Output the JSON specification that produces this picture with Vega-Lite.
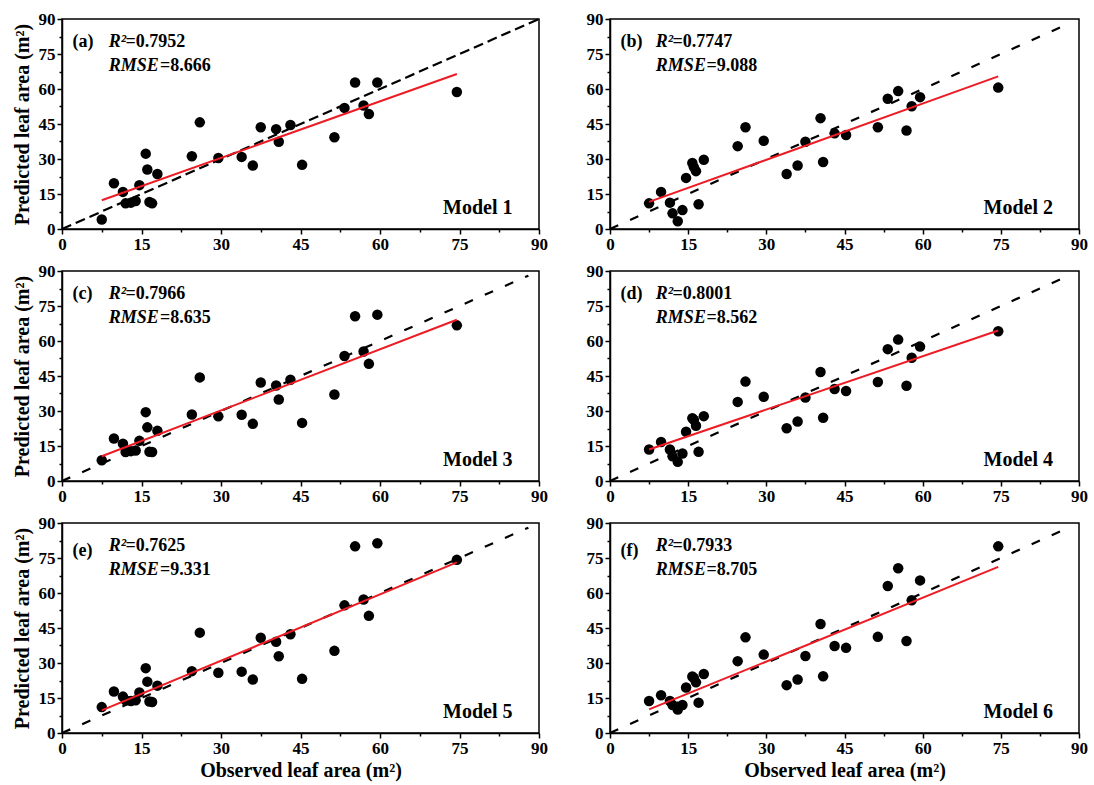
{
  "$schema": "https://vega.github.io/schema/vega-lite/v6.json",
  "background": "white",
  "padding": {"left": 11, "top": 9, "right": 5, "bottom": 5},
  "config": {
    "view": {"stroke": "black", "strokeWidth": 1.5},
    "axis": {
      "grid": false,
      "domainColor": "black", "domainWidth": 1.5,
      "tickColor": "black", "tickWidth": 1.5,
      "labelFont": "Liberation Serif", "labelFontWeight": "bold", "labelFontSize": 17, "labelColor": "black",
      "labelPadding": 2, "labelFlush": false, "labelOverlap": false,
      "titleFont": "Liberation Serif", "titleFontWeight": "bold", "titleFontSize": 20, "titleColor": "black"
    },
    "axisY": {"titlePadding": 6},
    "axisX": {"titlePadding": 4},
    "text": {"font": "Liberation Serif", "color": "black"}
  },
  "datasets": {
    "points": [
      {"panel":"a","observed":7.5,"predicted":4.1},{"panel":"a","observed":9.8,"predicted":19.6},{"panel":"a","observed":11.5,"predicted":15.9},{"panel":"a","observed":12.0,"predicted":11.0},{"panel":"a","observed":13.0,"predicted":11.3},{"panel":"a","observed":13.9,"predicted":12.0},{"panel":"a","observed":14.6,"predicted":18.8},{"panel":"a","observed":15.8,"predicted":32.3},{"panel":"a","observed":16.1,"predicted":25.5},{"panel":"a","observed":16.5,"predicted":11.6},{"panel":"a","observed":17.0,"predicted":11.0},{"panel":"a","observed":18.0,"predicted":23.6},{"panel":"a","observed":24.5,"predicted":31.2},{"panel":"a","observed":26.0,"predicted":45.7},{"panel":"a","observed":29.5,"predicted":30.4},{"panel":"a","observed":33.9,"predicted":30.9},{"panel":"a","observed":36.0,"predicted":27.2},{"panel":"a","observed":37.5,"predicted":43.6},{"panel":"a","observed":40.4,"predicted":42.8},{"panel":"a","observed":40.9,"predicted":37.4},{"panel":"a","observed":43.1,"predicted":44.6},{"panel":"a","observed":45.3,"predicted":27.5},{"panel":"a","observed":51.4,"predicted":39.3},{"panel":"a","observed":53.3,"predicted":51.9},{"panel":"a","observed":55.3,"predicted":62.8},{"panel":"a","observed":56.9,"predicted":52.9},{"panel":"a","observed":57.9,"predicted":49.3},{"panel":"a","observed":59.5,"predicted":62.8},{"panel":"a","observed":74.5,"predicted":58.7},
      {"panel":"b","observed":7.5,"predicted":11.0},{"panel":"b","observed":9.8,"predicted":15.9},{"panel":"b","observed":11.5,"predicted":11.3},{"panel":"b","observed":12.0,"predicted":6.7},{"panel":"b","observed":13.0,"predicted":3.3},{"panel":"b","observed":13.9,"predicted":8.1},{"panel":"b","observed":14.6,"predicted":21.9},{"panel":"b","observed":15.8,"predicted":28.3},{"panel":"b","observed":16.1,"predicted":26.5},{"panel":"b","observed":16.5,"predicted":24.8},{"panel":"b","observed":17.0,"predicted":10.6},{"panel":"b","observed":18.0,"predicted":29.7},{"panel":"b","observed":24.5,"predicted":35.5},{"panel":"b","observed":26.0,"predicted":43.6},{"panel":"b","observed":29.5,"predicted":37.8},{"panel":"b","observed":33.9,"predicted":23.6},{"panel":"b","observed":36.0,"predicted":27.2},{"panel":"b","observed":37.5,"predicted":37.4},{"panel":"b","observed":40.4,"predicted":47.5},{"panel":"b","observed":40.9,"predicted":28.7},{"panel":"b","observed":43.1,"predicted":41.0},{"panel":"b","observed":45.3,"predicted":40.3},{"panel":"b","observed":51.4,"predicted":43.6},{"panel":"b","observed":53.3,"predicted":55.8},{"panel":"b","observed":55.3,"predicted":59.1},{"panel":"b","observed":56.9,"predicted":42.2},{"panel":"b","observed":57.9,"predicted":52.6},{"panel":"b","observed":59.5,"predicted":56.5},{"panel":"b","observed":74.5,"predicted":60.6},
      {"panel":"c","observed":7.5,"predicted":8.9},{"panel":"c","observed":9.8,"predicted":18.2},{"panel":"c","observed":11.5,"predicted":16.0},{"panel":"c","observed":12.0,"predicted":12.4},{"panel":"c","observed":13.0,"predicted":12.8},{"panel":"c","observed":13.9,"predicted":13.1},{"panel":"c","observed":14.6,"predicted":17.2},{"panel":"c","observed":15.8,"predicted":29.5},{"panel":"c","observed":16.1,"predicted":23.0},{"panel":"c","observed":16.5,"predicted":12.5},{"panel":"c","observed":17.0,"predicted":12.4},{"panel":"c","observed":18.0,"predicted":21.5},{"panel":"c","observed":24.5,"predicted":28.5},{"panel":"c","observed":26.0,"predicted":44.4},{"panel":"c","observed":29.5,"predicted":27.7},{"panel":"c","observed":33.9,"predicted":28.4},{"panel":"c","observed":36.0,"predicted":24.5},{"panel":"c","observed":37.5,"predicted":42.2},{"panel":"c","observed":40.4,"predicted":40.9},{"panel":"c","observed":40.9,"predicted":34.9},{"panel":"c","observed":43.1,"predicted":43.4},{"panel":"c","observed":45.3,"predicted":24.9},{"panel":"c","observed":51.4,"predicted":37.1},{"panel":"c","observed":53.3,"predicted":53.6},{"panel":"c","observed":55.3,"predicted":70.6},{"panel":"c","observed":56.9,"predicted":55.5},{"panel":"c","observed":57.9,"predicted":50.2},{"panel":"c","observed":59.5,"predicted":71.3},{"panel":"c","observed":74.5,"predicted":66.7},
      {"panel":"d","observed":7.5,"predicted":13.5},{"panel":"d","observed":9.8,"predicted":16.7},{"panel":"d","observed":11.5,"predicted":13.5},{"panel":"d","observed":12.0,"predicted":10.6},{"panel":"d","observed":13.0,"predicted":8.2},{"panel":"d","observed":13.9,"predicted":11.8},{"panel":"d","observed":14.6,"predicted":21.1},{"panel":"d","observed":15.8,"predicted":26.9},{"panel":"d","observed":16.1,"predicted":26.2},{"panel":"d","observed":16.5,"predicted":23.7},{"panel":"d","observed":17.0,"predicted":12.5},{"panel":"d","observed":18.0,"predicted":27.8},{"panel":"d","observed":24.5,"predicted":33.9},{"panel":"d","observed":26.0,"predicted":42.6},{"panel":"d","observed":29.5,"predicted":36.1},{"panel":"d","observed":33.9,"predicted":22.6},{"panel":"d","observed":36.0,"predicted":25.5},{"panel":"d","observed":37.5,"predicted":35.8},{"panel":"d","observed":40.4,"predicted":46.7},{"panel":"d","observed":40.9,"predicted":27.1},{"panel":"d","observed":43.1,"predicted":39.4},{"panel":"d","observed":45.3,"predicted":38.6},{"panel":"d","observed":51.4,"predicted":42.4},{"panel":"d","observed":53.3,"predicted":56.5},{"panel":"d","observed":55.3,"predicted":60.6},{"panel":"d","observed":56.9,"predicted":40.8},{"panel":"d","observed":57.9,"predicted":52.8},{"panel":"d","observed":59.5,"predicted":57.6},{"panel":"d","observed":74.5,"predicted":64.2},
      {"panel":"e","observed":7.5,"predicted":11.1},{"panel":"e","observed":9.8,"predicted":17.8},{"panel":"e","observed":11.5,"predicted":15.6},{"panel":"e","observed":12.0,"predicted":14.0},{"panel":"e","observed":13.0,"predicted":13.7},{"panel":"e","observed":13.9,"predicted":14.0},{"panel":"e","observed":14.6,"predicted":17.4},{"panel":"e","observed":15.8,"predicted":27.8},{"panel":"e","observed":16.1,"predicted":22.0},{"panel":"e","observed":16.5,"predicted":13.5},{"panel":"e","observed":17.0,"predicted":13.3},{"panel":"e","observed":18.0,"predicted":20.3},{"panel":"e","observed":24.5,"predicted":26.5},{"panel":"e","observed":26.0,"predicted":43.0},{"panel":"e","observed":29.5,"predicted":25.8},{"panel":"e","observed":33.9,"predicted":26.3},{"panel":"e","observed":36.0,"predicted":22.9},{"panel":"e","observed":37.5,"predicted":40.8},{"panel":"e","observed":40.4,"predicted":39.1},{"panel":"e","observed":40.9,"predicted":32.9},{"panel":"e","observed":43.1,"predicted":42.3},{"panel":"e","observed":45.3,"predicted":23.2},{"panel":"e","observed":51.4,"predicted":35.2},{"panel":"e","observed":53.3,"predicted":54.7},{"panel":"e","observed":55.3,"predicted":80.0},{"panel":"e","observed":56.9,"predicted":57.2},{"panel":"e","observed":57.9,"predicted":50.2},{"panel":"e","observed":59.5,"predicted":81.3},{"panel":"e","observed":74.5,"predicted":74.2},
      {"panel":"f","observed":7.5,"predicted":13.7},{"panel":"f","observed":9.8,"predicted":16.2},{"panel":"f","observed":11.5,"predicted":13.7},{"panel":"f","observed":12.0,"predicted":12.0},{"panel":"f","observed":13.0,"predicted":10.1},{"panel":"f","observed":13.9,"predicted":12.0},{"panel":"f","observed":14.6,"predicted":19.5},{"panel":"f","observed":15.8,"predicted":24.2},{"panel":"f","observed":16.1,"predicted":23.6},{"panel":"f","observed":16.5,"predicted":21.7},{"panel":"f","observed":17.0,"predicted":13.0},{"panel":"f","observed":18.0,"predicted":25.3},{"panel":"f","observed":24.5,"predicted":30.8},{"panel":"f","observed":26.0,"predicted":41.0},{"panel":"f","observed":29.5,"predicted":33.6},{"panel":"f","observed":33.9,"predicted":20.5},{"panel":"f","observed":36.0,"predicted":22.9},{"panel":"f","observed":37.5,"predicted":33.0},{"panel":"f","observed":40.4,"predicted":46.7},{"panel":"f","observed":40.9,"predicted":24.3},{"panel":"f","observed":43.1,"predicted":37.3},{"panel":"f","observed":45.3,"predicted":36.5},{"panel":"f","observed":51.4,"predicted":41.2},{"panel":"f","observed":53.3,"predicted":63.0},{"panel":"f","observed":55.3,"predicted":70.6},{"panel":"f","observed":56.9,"predicted":39.4},{"panel":"f","observed":57.9,"predicted":56.9},{"panel":"f","observed":59.5,"predicted":65.4},{"panel":"f","observed":74.5,"predicted":80.0}
    ],
    "fit": [
      {"panel":"a","observed":7.5,"predicted":12.3},{"panel":"a","observed":74.5,"predicted":66.4},
      {"panel":"b","observed":7.5,"predicted":11.6},{"panel":"b","observed":74.5,"predicted":65.4},
      {"panel":"c","observed":7.5,"predicted":10.6},{"panel":"c","observed":74.5,"predicted":69.1},
      {"panel":"d","observed":7.5,"predicted":13.5},{"panel":"d","observed":74.5,"predicted":64.5},
      {"panel":"e","observed":7.5,"predicted":9.7},{"panel":"e","observed":74.5,"predicted":73.1},
      {"panel":"f","observed":7.5,"predicted":10.1},{"panel":"f","observed":74.5,"predicted":71.2}
    ],
    "identity": [
      {"panel":"a","observed":0,"predicted":0},{"panel":"a","observed":90,"predicted":90},
      {"panel":"b","observed":0,"predicted":0},{"panel":"b","observed":88,"predicted":88},
      {"panel":"c","observed":0,"predicted":0},{"panel":"c","observed":88,"predicted":88},
      {"panel":"d","observed":0,"predicted":0},{"panel":"d","observed":88,"predicted":88},
      {"panel":"e","observed":0,"predicted":0},{"panel":"e","observed":88,"predicted":88},
      {"panel":"f","observed":0,"predicted":0},{"panel":"f","observed":88,"predicted":88}
    ],
    "notes": [
      {"panel":"a","tag":"(a)","r2":"=0.7952","rmse":"=8.666","model":"Model 1"},
      {"panel":"b","tag":"(b)","r2":"=0.7747","rmse":"=9.088","model":"Model 2"},
      {"panel":"c","tag":"(c)","r2":"=0.7966","rmse":"=8.635","model":"Model 3"},
      {"panel":"d","tag":"(d)","r2":"=0.8001","rmse":"=8.562","model":"Model 4"},
      {"panel":"e","tag":"(e)","r2":"=0.7625","rmse":"=9.331","model":"Model 5"},
      {"panel":"f","tag":"(f)","r2":"=0.7933","rmse":"=8.705","model":"Model 6"}
    ]
  },
  "columns": 2,
  "spacing": {"row": 42, "column": 71},
  "bounds": "flush",
  "concat": [
    {
      "width": 477, "height": 210,
      "layer": [
        {"data": {"name": "identity"}, "transform": [{"filter": "datum.panel === 'a'"}], "mark": {"type": "line", "color": "black", "strokeWidth": 2.2, "strokeDash": [10, 5]},
          "encoding": {
            "x": {"field": "observed", "type": "quantitative", "scale": {"domain": [0, 90], "nice": false}, "axis": {"title": null, "tickCount": 30, "labelOverlap": false, "values": [0, 7.5, 15, 22.5, 30, 37.5, 45, 52.5, 60, 67.5, 75, 82.5, 90], "labelExpr": "datum.value % 15 === 0 ? datum.label : ''", "tickSize": {"condition": {"test": "datum.value % 15 === 0", "value": 5}, "value": 3}}},
            "y": {"field": "predicted", "type": "quantitative", "scale": {"domain": [0, 90], "nice": false}, "axis": {"title": "Predicted leaf area (m²)", "tickCount": 30, "labelOverlap": false, "values": [0, 7.5, 15, 22.5, 30, 37.5, 45, 52.5, 60, 67.5, 75, 82.5, 90], "labelExpr": "datum.value % 15 === 0 ? datum.label : ''", "tickSize": {"condition": {"test": "datum.value % 15 === 0", "value": 5}, "value": 3}}}
          }},
        {"data": {"name": "points"}, "transform": [{"filter": "datum.panel === 'a'"}], "mark": {"type": "circle", "size": 110, "color": "black", "opacity": 1}, "encoding": {"x": {"field": "observed", "type": "quantitative"}, "y": {"field": "predicted", "type": "quantitative"}}},
        {"data": {"name": "fit"}, "transform": [{"filter": "datum.panel === 'a'"}], "mark": {"type": "line", "color": "#ed1c24", "strokeWidth": 2}, "encoding": {"x": {"field": "observed", "type": "quantitative"}, "y": {"field": "predicted", "type": "quantitative"}}},
        {"data": {"name": "notes"}, "transform": [{"filter": "datum.panel === 'a'"}], "mark": {"type": "text", "align": "left", "baseline": "middle", "fontSize": 18, "fontWeight": "bold"}, "encoding": {"x": {"datum": 2}, "y": {"datum": 80}, "text": {"field": "tag"}}},
        {"data": {"name": "notes"}, "transform": [{"filter": "datum.panel === 'a'"}], "mark": {"type": "text", "align": "left", "baseline": "middle", "fontSize": 18, "fontWeight": "bold", "fontStyle": "italic"}, "encoding": {"x": {"datum": 8.8}, "y": {"datum": 80}, "text": {"value": "R²"}}},
        {"data": {"name": "notes"}, "transform": [{"filter": "datum.panel === 'a'"}], "mark": {"type": "text", "align": "left", "baseline": "middle", "fontSize": 18, "fontWeight": "bold"}, "encoding": {"x": {"datum": 12.0}, "y": {"datum": 80}, "text": {"field": "r2"}}},
        {"data": {"name": "notes"}, "transform": [{"filter": "datum.panel === 'a'"}], "mark": {"type": "text", "align": "left", "baseline": "middle", "fontSize": 18, "fontWeight": "bold", "fontStyle": "italic"}, "encoding": {"x": {"datum": 8.8}, "y": {"datum": 70}, "text": {"value": "RMSE"}}},
        {"data": {"name": "notes"}, "transform": [{"filter": "datum.panel === 'a'"}], "mark": {"type": "text", "align": "left", "baseline": "middle", "fontSize": 18, "fontWeight": "bold"}, "encoding": {"x": {"datum": 18.5}, "y": {"datum": 70}, "text": {"field": "rmse"}}},
        {"data": {"name": "notes"}, "transform": [{"filter": "datum.panel === 'a'"}], "mark": {"type": "text", "align": "right", "baseline": "middle", "fontSize": 20, "fontWeight": "bold"}, "encoding": {"x": {"datum": 85}, "y": {"datum": 9}, "text": {"field": "model"}}}
      ]
    },
    {
      "width": 469, "height": 210,
      "layer": [
        {"data": {"name": "identity"}, "transform": [{"filter": "datum.panel === 'b'"}], "mark": {"type": "line", "color": "black", "strokeWidth": 2.2, "strokeDash": [9, 13]},
          "encoding": {
            "x": {"field": "observed", "type": "quantitative", "scale": {"domain": [0, 90], "nice": false}, "axis": {"title": null, "tickCount": 30, "labelOverlap": false, "values": [0, 7.5, 15, 22.5, 30, 37.5, 45, 52.5, 60, 67.5, 75, 82.5, 90], "labelExpr": "datum.value % 15 === 0 ? datum.label : ''", "tickSize": {"condition": {"test": "datum.value % 15 === 0", "value": 5}, "value": 3}}},
            "y": {"field": "predicted", "type": "quantitative", "scale": {"domain": [0, 90], "nice": false}, "axis": {"title": null, "tickCount": 30, "labelOverlap": false, "values": [0, 7.5, 15, 22.5, 30, 37.5, 45, 52.5, 60, 67.5, 75, 82.5, 90], "labelExpr": "datum.value % 15 === 0 ? datum.label : ''", "tickSize": {"condition": {"test": "datum.value % 15 === 0", "value": 5}, "value": 3}}}
          }},
        {"data": {"name": "points"}, "transform": [{"filter": "datum.panel === 'b'"}], "mark": {"type": "circle", "size": 110, "color": "black", "opacity": 1}, "encoding": {"x": {"field": "observed", "type": "quantitative"}, "y": {"field": "predicted", "type": "quantitative"}}},
        {"data": {"name": "fit"}, "transform": [{"filter": "datum.panel === 'b'"}], "mark": {"type": "line", "color": "#ed1c24", "strokeWidth": 2}, "encoding": {"x": {"field": "observed", "type": "quantitative"}, "y": {"field": "predicted", "type": "quantitative"}}},
        {"data": {"name": "notes"}, "transform": [{"filter": "datum.panel === 'b'"}], "mark": {"type": "text", "align": "left", "baseline": "middle", "fontSize": 18, "fontWeight": "bold"}, "encoding": {"x": {"datum": 2}, "y": {"datum": 80}, "text": {"field": "tag"}}},
        {"data": {"name": "notes"}, "transform": [{"filter": "datum.panel === 'b'"}], "mark": {"type": "text", "align": "left", "baseline": "middle", "fontSize": 18, "fontWeight": "bold", "fontStyle": "italic"}, "encoding": {"x": {"datum": 8.8}, "y": {"datum": 80}, "text": {"value": "R²"}}},
        {"data": {"name": "notes"}, "transform": [{"filter": "datum.panel === 'b'"}], "mark": {"type": "text", "align": "left", "baseline": "middle", "fontSize": 18, "fontWeight": "bold"}, "encoding": {"x": {"datum": 12.0}, "y": {"datum": 80}, "text": {"field": "r2"}}},
        {"data": {"name": "notes"}, "transform": [{"filter": "datum.panel === 'b'"}], "mark": {"type": "text", "align": "left", "baseline": "middle", "fontSize": 18, "fontWeight": "bold", "fontStyle": "italic"}, "encoding": {"x": {"datum": 8.8}, "y": {"datum": 70}, "text": {"value": "RMSE"}}},
        {"data": {"name": "notes"}, "transform": [{"filter": "datum.panel === 'b'"}], "mark": {"type": "text", "align": "left", "baseline": "middle", "fontSize": 18, "fontWeight": "bold"}, "encoding": {"x": {"datum": 18.5}, "y": {"datum": 70}, "text": {"field": "rmse"}}},
        {"data": {"name": "notes"}, "transform": [{"filter": "datum.panel === 'b'"}], "mark": {"type": "text", "align": "right", "baseline": "middle", "fontSize": 20, "fontWeight": "bold"}, "encoding": {"x": {"datum": 85}, "y": {"datum": 9}, "text": {"field": "model"}}}
      ]
    },
    {
      "width": 477, "height": 210,
      "layer": [
        {"data": {"name": "identity"}, "transform": [{"filter": "datum.panel === 'c'"}], "mark": {"type": "line", "color": "black", "strokeWidth": 2.2, "strokeDash": [9, 13]},
          "encoding": {
            "x": {"field": "observed", "type": "quantitative", "scale": {"domain": [0, 90], "nice": false}, "axis": {"title": null, "tickCount": 30, "labelOverlap": false, "values": [0, 7.5, 15, 22.5, 30, 37.5, 45, 52.5, 60, 67.5, 75, 82.5, 90], "labelExpr": "datum.value % 15 === 0 ? datum.label : ''", "tickSize": {"condition": {"test": "datum.value % 15 === 0", "value": 5}, "value": 3}}},
            "y": {"field": "predicted", "type": "quantitative", "scale": {"domain": [0, 90], "nice": false}, "axis": {"title": "Predicted leaf area (m²)", "tickCount": 30, "labelOverlap": false, "values": [0, 7.5, 15, 22.5, 30, 37.5, 45, 52.5, 60, 67.5, 75, 82.5, 90], "labelExpr": "datum.value % 15 === 0 ? datum.label : ''", "tickSize": {"condition": {"test": "datum.value % 15 === 0", "value": 5}, "value": 3}}}
          }},
        {"data": {"name": "points"}, "transform": [{"filter": "datum.panel === 'c'"}], "mark": {"type": "circle", "size": 110, "color": "black", "opacity": 1}, "encoding": {"x": {"field": "observed", "type": "quantitative"}, "y": {"field": "predicted", "type": "quantitative"}}},
        {"data": {"name": "fit"}, "transform": [{"filter": "datum.panel === 'c'"}], "mark": {"type": "line", "color": "#ed1c24", "strokeWidth": 2}, "encoding": {"x": {"field": "observed", "type": "quantitative"}, "y": {"field": "predicted", "type": "quantitative"}}},
        {"data": {"name": "notes"}, "transform": [{"filter": "datum.panel === 'c'"}], "mark": {"type": "text", "align": "left", "baseline": "middle", "fontSize": 18, "fontWeight": "bold"}, "encoding": {"x": {"datum": 2}, "y": {"datum": 80}, "text": {"field": "tag"}}},
        {"data": {"name": "notes"}, "transform": [{"filter": "datum.panel === 'c'"}], "mark": {"type": "text", "align": "left", "baseline": "middle", "fontSize": 18, "fontWeight": "bold", "fontStyle": "italic"}, "encoding": {"x": {"datum": 8.8}, "y": {"datum": 80}, "text": {"value": "R²"}}},
        {"data": {"name": "notes"}, "transform": [{"filter": "datum.panel === 'c'"}], "mark": {"type": "text", "align": "left", "baseline": "middle", "fontSize": 18, "fontWeight": "bold"}, "encoding": {"x": {"datum": 12.0}, "y": {"datum": 80}, "text": {"field": "r2"}}},
        {"data": {"name": "notes"}, "transform": [{"filter": "datum.panel === 'c'"}], "mark": {"type": "text", "align": "left", "baseline": "middle", "fontSize": 18, "fontWeight": "bold", "fontStyle": "italic"}, "encoding": {"x": {"datum": 8.8}, "y": {"datum": 70}, "text": {"value": "RMSE"}}},
        {"data": {"name": "notes"}, "transform": [{"filter": "datum.panel === 'c'"}], "mark": {"type": "text", "align": "left", "baseline": "middle", "fontSize": 18, "fontWeight": "bold"}, "encoding": {"x": {"datum": 18.5}, "y": {"datum": 70}, "text": {"field": "rmse"}}},
        {"data": {"name": "notes"}, "transform": [{"filter": "datum.panel === 'c'"}], "mark": {"type": "text", "align": "right", "baseline": "middle", "fontSize": 20, "fontWeight": "bold"}, "encoding": {"x": {"datum": 85}, "y": {"datum": 9}, "text": {"field": "model"}}}
      ]
    },
    {
      "width": 469, "height": 210,
      "layer": [
        {"data": {"name": "identity"}, "transform": [{"filter": "datum.panel === 'd'"}], "mark": {"type": "line", "color": "black", "strokeWidth": 2.2, "strokeDash": [9, 13]},
          "encoding": {
            "x": {"field": "observed", "type": "quantitative", "scale": {"domain": [0, 90], "nice": false}, "axis": {"title": null, "tickCount": 30, "labelOverlap": false, "values": [0, 7.5, 15, 22.5, 30, 37.5, 45, 52.5, 60, 67.5, 75, 82.5, 90], "labelExpr": "datum.value % 15 === 0 ? datum.label : ''", "tickSize": {"condition": {"test": "datum.value % 15 === 0", "value": 5}, "value": 3}}},
            "y": {"field": "predicted", "type": "quantitative", "scale": {"domain": [0, 90], "nice": false}, "axis": {"title": null, "tickCount": 30, "labelOverlap": false, "values": [0, 7.5, 15, 22.5, 30, 37.5, 45, 52.5, 60, 67.5, 75, 82.5, 90], "labelExpr": "datum.value % 15 === 0 ? datum.label : ''", "tickSize": {"condition": {"test": "datum.value % 15 === 0", "value": 5}, "value": 3}}}
          }},
        {"data": {"name": "points"}, "transform": [{"filter": "datum.panel === 'd'"}], "mark": {"type": "circle", "size": 110, "color": "black", "opacity": 1}, "encoding": {"x": {"field": "observed", "type": "quantitative"}, "y": {"field": "predicted", "type": "quantitative"}}},
        {"data": {"name": "fit"}, "transform": [{"filter": "datum.panel === 'd'"}], "mark": {"type": "line", "color": "#ed1c24", "strokeWidth": 2}, "encoding": {"x": {"field": "observed", "type": "quantitative"}, "y": {"field": "predicted", "type": "quantitative"}}},
        {"data": {"name": "notes"}, "transform": [{"filter": "datum.panel === 'd'"}], "mark": {"type": "text", "align": "left", "baseline": "middle", "fontSize": 18, "fontWeight": "bold"}, "encoding": {"x": {"datum": 2}, "y": {"datum": 80}, "text": {"field": "tag"}}},
        {"data": {"name": "notes"}, "transform": [{"filter": "datum.panel === 'd'"}], "mark": {"type": "text", "align": "left", "baseline": "middle", "fontSize": 18, "fontWeight": "bold", "fontStyle": "italic"}, "encoding": {"x": {"datum": 8.8}, "y": {"datum": 80}, "text": {"value": "R²"}}},
        {"data": {"name": "notes"}, "transform": [{"filter": "datum.panel === 'd'"}], "mark": {"type": "text", "align": "left", "baseline": "middle", "fontSize": 18, "fontWeight": "bold"}, "encoding": {"x": {"datum": 12.0}, "y": {"datum": 80}, "text": {"field": "r2"}}},
        {"data": {"name": "notes"}, "transform": [{"filter": "datum.panel === 'd'"}], "mark": {"type": "text", "align": "left", "baseline": "middle", "fontSize": 18, "fontWeight": "bold", "fontStyle": "italic"}, "encoding": {"x": {"datum": 8.8}, "y": {"datum": 70}, "text": {"value": "RMSE"}}},
        {"data": {"name": "notes"}, "transform": [{"filter": "datum.panel === 'd'"}], "mark": {"type": "text", "align": "left", "baseline": "middle", "fontSize": 18, "fontWeight": "bold"}, "encoding": {"x": {"datum": 18.5}, "y": {"datum": 70}, "text": {"field": "rmse"}}},
        {"data": {"name": "notes"}, "transform": [{"filter": "datum.panel === 'd'"}], "mark": {"type": "text", "align": "right", "baseline": "middle", "fontSize": 20, "fontWeight": "bold"}, "encoding": {"x": {"datum": 85}, "y": {"datum": 9}, "text": {"field": "model"}}}
      ]
    },
    {
      "width": 477, "height": 210,
      "layer": [
        {"data": {"name": "identity"}, "transform": [{"filter": "datum.panel === 'e'"}], "mark": {"type": "line", "color": "black", "strokeWidth": 2.2, "strokeDash": [9, 13]},
          "encoding": {
            "x": {"field": "observed", "type": "quantitative", "scale": {"domain": [0, 90], "nice": false}, "axis": {"title": "Observed leaf area (m²)", "tickCount": 30, "labelOverlap": false, "values": [0, 7.5, 15, 22.5, 30, 37.5, 45, 52.5, 60, 67.5, 75, 82.5, 90], "labelExpr": "datum.value % 15 === 0 ? datum.label : ''", "tickSize": {"condition": {"test": "datum.value % 15 === 0", "value": 5}, "value": 3}}},
            "y": {"field": "predicted", "type": "quantitative", "scale": {"domain": [0, 90], "nice": false}, "axis": {"title": "Predicted leaf area (m²)", "tickCount": 30, "labelOverlap": false, "values": [0, 7.5, 15, 22.5, 30, 37.5, 45, 52.5, 60, 67.5, 75, 82.5, 90], "labelExpr": "datum.value % 15 === 0 ? datum.label : ''", "tickSize": {"condition": {"test": "datum.value % 15 === 0", "value": 5}, "value": 3}}}
          }},
        {"data": {"name": "points"}, "transform": [{"filter": "datum.panel === 'e'"}], "mark": {"type": "circle", "size": 110, "color": "black", "opacity": 1}, "encoding": {"x": {"field": "observed", "type": "quantitative"}, "y": {"field": "predicted", "type": "quantitative"}}},
        {"data": {"name": "fit"}, "transform": [{"filter": "datum.panel === 'e'"}], "mark": {"type": "line", "color": "#ed1c24", "strokeWidth": 2}, "encoding": {"x": {"field": "observed", "type": "quantitative"}, "y": {"field": "predicted", "type": "quantitative"}}},
        {"data": {"name": "notes"}, "transform": [{"filter": "datum.panel === 'e'"}], "mark": {"type": "text", "align": "left", "baseline": "middle", "fontSize": 18, "fontWeight": "bold"}, "encoding": {"x": {"datum": 2}, "y": {"datum": 78}, "text": {"field": "tag"}}},
        {"data": {"name": "notes"}, "transform": [{"filter": "datum.panel === 'e'"}], "mark": {"type": "text", "align": "left", "baseline": "middle", "fontSize": 18, "fontWeight": "bold", "fontStyle": "italic"}, "encoding": {"x": {"datum": 8.8}, "y": {"datum": 80}, "text": {"value": "R²"}}},
        {"data": {"name": "notes"}, "transform": [{"filter": "datum.panel === 'e'"}], "mark": {"type": "text", "align": "left", "baseline": "middle", "fontSize": 18, "fontWeight": "bold"}, "encoding": {"x": {"datum": 12.0}, "y": {"datum": 80}, "text": {"field": "r2"}}},
        {"data": {"name": "notes"}, "transform": [{"filter": "datum.panel === 'e'"}], "mark": {"type": "text", "align": "left", "baseline": "middle", "fontSize": 18, "fontWeight": "bold", "fontStyle": "italic"}, "encoding": {"x": {"datum": 8.8}, "y": {"datum": 70}, "text": {"value": "RMSE"}}},
        {"data": {"name": "notes"}, "transform": [{"filter": "datum.panel === 'e'"}], "mark": {"type": "text", "align": "left", "baseline": "middle", "fontSize": 18, "fontWeight": "bold"}, "encoding": {"x": {"datum": 18.5}, "y": {"datum": 70}, "text": {"field": "rmse"}}},
        {"data": {"name": "notes"}, "transform": [{"filter": "datum.panel === 'e'"}], "mark": {"type": "text", "align": "right", "baseline": "middle", "fontSize": 20, "fontWeight": "bold"}, "encoding": {"x": {"datum": 85}, "y": {"datum": 9}, "text": {"field": "model"}}}
      ]
    },
    {
      "width": 469, "height": 210,
      "layer": [
        {"data": {"name": "identity"}, "transform": [{"filter": "datum.panel === 'f'"}], "mark": {"type": "line", "color": "black", "strokeWidth": 2.2, "strokeDash": [9, 13]},
          "encoding": {
            "x": {"field": "observed", "type": "quantitative", "scale": {"domain": [0, 90], "nice": false}, "axis": {"title": "Observed leaf area (m²)", "tickCount": 30, "labelOverlap": false, "values": [0, 7.5, 15, 22.5, 30, 37.5, 45, 52.5, 60, 67.5, 75, 82.5, 90], "labelExpr": "datum.value % 15 === 0 ? datum.label : ''", "tickSize": {"condition": {"test": "datum.value % 15 === 0", "value": 5}, "value": 3}}},
            "y": {"field": "predicted", "type": "quantitative", "scale": {"domain": [0, 90], "nice": false}, "axis": {"title": null, "tickCount": 30, "labelOverlap": false, "values": [0, 7.5, 15, 22.5, 30, 37.5, 45, 52.5, 60, 67.5, 75, 82.5, 90], "labelExpr": "datum.value % 15 === 0 ? datum.label : ''", "tickSize": {"condition": {"test": "datum.value % 15 === 0", "value": 5}, "value": 3}}}
          }},
        {"data": {"name": "points"}, "transform": [{"filter": "datum.panel === 'f'"}], "mark": {"type": "circle", "size": 110, "color": "black", "opacity": 1}, "encoding": {"x": {"field": "observed", "type": "quantitative"}, "y": {"field": "predicted", "type": "quantitative"}}},
        {"data": {"name": "fit"}, "transform": [{"filter": "datum.panel === 'f'"}], "mark": {"type": "line", "color": "#ed1c24", "strokeWidth": 2}, "encoding": {"x": {"field": "observed", "type": "quantitative"}, "y": {"field": "predicted", "type": "quantitative"}}},
        {"data": {"name": "notes"}, "transform": [{"filter": "datum.panel === 'f'"}], "mark": {"type": "text", "align": "left", "baseline": "middle", "fontSize": 18, "fontWeight": "bold"}, "encoding": {"x": {"datum": 2}, "y": {"datum": 78}, "text": {"field": "tag"}}},
        {"data": {"name": "notes"}, "transform": [{"filter": "datum.panel === 'f'"}], "mark": {"type": "text", "align": "left", "baseline": "middle", "fontSize": 18, "fontWeight": "bold", "fontStyle": "italic"}, "encoding": {"x": {"datum": 8.8}, "y": {"datum": 80}, "text": {"value": "R²"}}},
        {"data": {"name": "notes"}, "transform": [{"filter": "datum.panel === 'f'"}], "mark": {"type": "text", "align": "left", "baseline": "middle", "fontSize": 18, "fontWeight": "bold"}, "encoding": {"x": {"datum": 12.0}, "y": {"datum": 80}, "text": {"field": "r2"}}},
        {"data": {"name": "notes"}, "transform": [{"filter": "datum.panel === 'f'"}], "mark": {"type": "text", "align": "left", "baseline": "middle", "fontSize": 18, "fontWeight": "bold", "fontStyle": "italic"}, "encoding": {"x": {"datum": 8.8}, "y": {"datum": 70}, "text": {"value": "RMSE"}}},
        {"data": {"name": "notes"}, "transform": [{"filter": "datum.panel === 'f'"}], "mark": {"type": "text", "align": "left", "baseline": "middle", "fontSize": 18, "fontWeight": "bold"}, "encoding": {"x": {"datum": 18.5}, "y": {"datum": 70}, "text": {"field": "rmse"}}},
        {"data": {"name": "notes"}, "transform": [{"filter": "datum.panel === 'f'"}], "mark": {"type": "text", "align": "right", "baseline": "middle", "fontSize": 20, "fontWeight": "bold"}, "encoding": {"x": {"datum": 85}, "y": {"datum": 9}, "text": {"field": "model"}}}
      ]
    }
  ]
}
